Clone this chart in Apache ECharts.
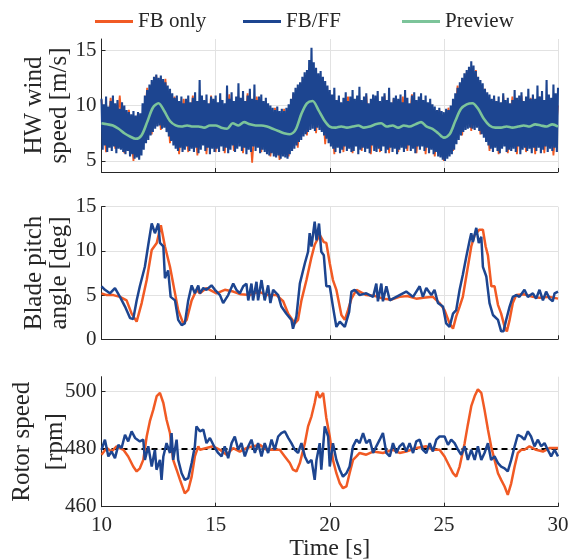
<!DOCTYPE html>
<html>
<head>
<meta charset="utf-8">
<script src="https://cdn.jsdelivr.net/npm/echarts@6/dist/echarts.min.js"></script>
<style>html,body{margin:0;padding:0;background:#fff}#c{width:569px;height:560px}</style>
</head>
<body>
<div id="c"></div>
<script>
// ---------- data ----------
const xTicks = [10, 15, 20, 25, 30];
const windTicks = [5, 10, 15];
const pitchTicks = [0, 5, 10, 15];
const rotorTicks = [460, 480, 500];

// HW wind speed, FB/FF (sampled every 0.05 s from 10 s)
const windFfStart = 10, windFfStep = 0.05;
const windFf = [
10.6,6.0,10.1,6.4,10.8,5.8,9.9,6.2,10.4,5.9,10.9,6.3,10.2,5.7,10.5,6.1,9.7,6.0,10.3,5.8,
10.0,5.6,9.6,5.9,9.4,5.4,9.2,5.6,9.5,5.2,9.1,5.3,9.4,5.1,9.3,5.5,10.2,6.0,10.9,6.6,
11.4,6.9,11.9,7.3,12.3,7.6,12.6,7.9,12.8,8.1,12.5,8.2,12.7,7.9,12.4,8.0,12.1,7.6,11.8,7.2,
11.5,6.8,11.1,6.4,10.7,6.1,10.9,5.9,10.4,6.2,10.8,5.8,10.2,6.0,10.6,6.3,10.9,5.9,10.3,6.1,
10.7,5.8,11.2,6.2,10.4,5.7,12.3,6.0,10.9,6.4,10.5,5.9,11.0,6.2,10.2,5.6,10.8,6.1,10.6,5.8,
10.9,6.1,10.3,5.8,11.1,6.3,10.5,5.9,10.2,6.2,11.8,5.7,10.6,6.0,11.2,6.4,10.4,5.8,10.8,6.1,
12.0,6.3,10.7,5.9,11.3,6.2,10.4,5.6,10.9,6.0,11.5,5.8,10.6,6.3,11.9,5.9,10.5,6.2,10.8,5.7,
11.0,6.0,10.4,5.8,10.7,5.6,10.2,5.5,10.0,5.7,9.8,5.4,9.6,5.3,9.9,5.5,9.5,5.2,9.7,5.4,
9.5,5.3,9.8,5.2,10.1,5.6,10.6,5.9,11.2,6.1,11.6,6.4,11.9,6.7,12.1,6.9,12.6,7.2,13.0,7.4,
13.2,7.6,14.1,7.8,15.2,7.9,13.9,7.7,13.4,8.0,12.9,7.8,13.1,7.6,12.6,7.3,12.2,7.0,11.8,6.6,
11.4,6.3,11.0,6.1,11.6,5.8,10.5,6.2,10.9,5.7,10.3,6.0,10.7,6.3,11.2,5.9,10.4,6.1,10.8,5.8,
11.4,5.9,10.6,6.3,10.9,5.6,11.7,6.0,10.5,6.2,10.8,5.8,11.1,6.1,10.2,5.7,10.6,6.4,11.0,5.9,
10.9,5.8,11.3,6.1,10.4,5.9,10.8,6.3,11.1,5.7,10.5,6.0,11.6,6.2,10.3,5.8,10.7,6.1,10.9,5.6,
10.6,6.0,11.0,6.2,10.3,5.8,11.4,6.1,10.7,6.4,10.2,5.9,10.9,6.1,11.2,5.7,10.5,6.3,10.8,6.0,
11.1,6.3,10.5,5.9,10.9,6.2,10.3,5.7,10.6,6.0,10.1,5.6,9.9,5.8,9.6,5.4,9.8,5.3,9.5,5.1,
9.4,5.0,9.7,5.2,9.6,5.4,10.0,5.6,10.6,6.0,11.1,6.5,11.6,6.9,12.1,7.3,12.5,7.6,12.9,7.8,
13.2,7.9,13.5,8.0,14.0,7.9,13.6,7.8,13.1,8.0,12.6,7.7,12.3,7.4,12.0,7.1,11.5,6.7,11.2,6.4,
11.0,6.1,10.6,5.8,10.9,6.2,10.4,5.9,10.8,5.7,10.3,6.1,11.1,6.3,10.5,5.8,10.7,6.0,10.2,5.9,
10.5,6.1,11.4,5.8,10.7,6.3,10.9,5.6,11.2,6.0,10.4,6.2,10.8,5.9,11.5,6.1,10.6,5.7,11.0,6.2,
10.6,5.9,11.8,6.2,10.8,5.7,11.3,6.0,10.5,6.3,12.3,5.8,11.0,6.1,10.7,5.9,11.9,6.2,11.1,5.8,
11.6
];

// HW wind speed, FB only (sampled every 0.2 s from 10 s)
const windFbStart = 10, windFbStep = 0.2;
const windFb = [
10.5,5.8,10.7,6.1,10.9,5.7,9.6,5.0,9.4,6.2,
11.6,7.4,12.7,7.8,12.4,6.6,10.8,5.6,10.6,5.8,
10.9,5.5,10.7,5.6,10.9,5.8,10.6,5.7,11.0,5.9,
10.8,5.7,11.1,4.85,10.8,5.8,10.4,5.4,9.8,5.1,
9.7,5.4,11.0,6.2,12.1,7.3,13.5,7.5,12.5,6.5,
11.0,5.6,10.7,5.8,10.8,5.7,10.6,5.9,10.9,5.6,
10.7,5.8,10.9,5.7,10.6,5.8,10.8,5.9,11.0,5.7,
10.7,5.6,10.2,5.4,9.6,5.0,9.8,5.9,11.8,7.3,
13.0,7.7,13.2,7.4,11.5,5.9,10.7,5.6,10.9,5.7,
10.8,5.6,10.9,5.8,10.7,5.6,10.8,5.7,10.9,5.5,
10.0
];

// Preview wind speed (every 0.25 s from 10 s)
const previewStart = 10, previewStep = 0.25;
const preview = [
8.4,8.3,8.2,7.9,7.5,7.2,7.0,7.3,8.5,9.8,10.2,9.5,8.6,8.2,8.1,8.2,
8.1,8.1,8.0,8.2,8.2,8.0,7.9,8.4,8.2,8.5,8.3,8.2,8.2,8.1,7.9,7.7,
7.5,7.4,7.8,9.2,10.2,10.4,9.6,8.7,8.1,8.0,8.1,8.0,8.1,8.2,8.0,8.1,
8.3,8.4,8.1,8.2,8.0,8.2,8.1,8.3,8.5,8.1,7.9,7.5,7.1,7.4,8.6,9.7,
10.1,10.2,9.7,8.8,8.2,8.0,8.0,8.1,8.0,8.1,8.2,8.1,8.3,8.2,8.1,8.3,
8.1
];

// Blade pitch angle [deg] : [time, value]
const pitchFb = [
[10.0,5.2],[10.23,5.0],[10.52,5.0],[10.81,4.8],[11.1,4.4],[11.32,2.9],[11.54,2.0],[11.76,4.1],[11.98,6.7],
[12.2,10.1],[12.42,10.9],[12.6,12.9],[12.78,10.5],[13.0,8.2],[13.14,6.3],[13.36,3.3],[13.58,1.8],[13.73,2.2],
[13.95,4.4],[14.17,5.6],[14.31,5.2],[14.6,5.8],[15.04,5.2],[15.4,5.6],[15.77,5.4],[16.1,5.1],[16.5,5.0],
[16.9,5.4],[17.23,5.0],[17.67,5.0],[17.96,4.3],[18.18,2.9],[18.47,1.8],[18.61,2.2],[18.76,4.4],[18.98,6.7],
[19.2,9.3],[19.34,10.7],[19.56,11.8],[19.74,11.0],[19.85,10.9],[20.0,8.6],[20.14,6.7],[20.29,5.6],[20.51,2.75],
[20.66,2.2],[20.8,3.3],[20.95,4.6],[21.17,5.6],[21.6,5.0],[22.0,4.9],[22.33,4.6],[22.7,4.5],[23.06,4.8],
[23.4,4.9],[23.79,4.6],[24.1,4.7],[24.52,4.8],[24.81,4.1],[25.03,3.3],[25.25,1.8],[25.4,1.2],[25.54,2.6],
[25.69,3.7],[25.83,4.8],[25.98,7.1],[26.2,10.5],[26.35,11.8],[26.56,12.4],[26.71,12.4],[26.83,10.5],[26.93,9.5],
[27.08,6.0],[27.22,6.0],[27.37,3.9],[27.51,2.9],[27.66,1.4],[27.76,0.9],[27.88,2.2],[28.02,4.1],[28.17,5.0],
[28.5,5.1],[28.9,4.8],[29.2,4.7],[29.63,4.8],[30.0,4.6]
];
const pitchFf = [
[10.0,6.0],[10.15,5.6],[10.37,5.2],[10.59,5.8],[10.81,4.8],[11.03,3.7],[11.25,2.4],[11.39,2.3],[11.54,4.4],
[11.68,6.0],[11.9,8.2],[12.05,10.7],[12.2,13.1],[12.34,12.0],[12.49,13.1],[12.56,10.9],[12.71,10.5],[12.78,6.9],
[12.92,7.8],[13.03,4.8],[13.22,4.4],[13.36,2.2],[13.51,1.6],[13.65,1.8],[13.8,4.4],[13.95,6.1],[14.09,5.2],
[14.24,6.1],[14.31,5.2],[14.46,5.8],[14.6,5.6],[14.82,6.1],[14.97,5.6],[15.19,5.0],[15.33,4.1],[15.55,5.0],
[15.77,6.3],[15.91,5.6],[16.06,5.2],[16.21,6.0],[16.35,6.3],[16.43,4.4],[16.57,6.3],[16.64,4.4],[16.79,6.5],
[16.86,4.4],[17.01,6.7],[17.15,4.4],[17.3,6.1],[17.4,4.1],[17.52,5.6],[17.74,5.0],[17.88,3.7],[18.1,2.9],
[18.32,2.2],[18.39,1.2],[18.54,2.6],[18.69,6.3],[18.91,8.6],[19.05,9.9],[19.12,12.0],[19.2,10.5],[19.34,13.3],
[19.42,11.2],[19.53,13.1],[19.63,9.9],[19.74,9.5],[19.85,6.0],[20.0,6.0],[20.14,3.7],[20.29,1.4],[20.44,2.0],
[20.66,1.4],[20.85,3.1],[20.95,5.4],[21.09,5.6],[21.31,5.0],[21.6,5.2],[21.9,4.8],[22.04,6.3],[22.11,4.3],
[22.26,6.3],[22.33,4.3],[22.48,6.0],[22.63,4.4],[22.77,4.6],[23.06,5.0],[23.35,5.4],[23.65,4.8],[23.94,6.0],
[24.08,4.8],[24.23,5.8],[24.45,5.0],[24.59,5.6],[24.74,4.1],[24.96,3.7],[25.1,1.8],[25.25,1.4],[25.4,2.9],
[25.54,3.3],[25.69,5.6],[25.83,7.3],[25.98,9.3],[26.13,11.2],[26.2,12.0],[26.27,11.0],[26.42,12.6],[26.53,10.9],
[26.64,11.6],[26.71,8.2],[26.86,7.1],[27.0,4.1],[27.15,2.75],[27.37,2.2],[27.51,0.9],[27.61,0.9],[27.73,2.2],
[27.88,3.7],[28.02,4.8],[28.17,5.0],[28.31,4.8],[28.53,5.6],[28.68,4.8],[28.9,5.2],[29.04,4.6],[29.19,5.6],
[29.34,4.4],[29.48,5.4],[29.63,4.6],[29.77,4.3],[29.85,5.2],[30.0,5.4]
];

// Rotor speed [rpm] : [time, value]
const rotorRated = 480;
const rotorFb = [
[10.0,478.0],[10.23,480.3],[10.44,479.1],[10.66,480.9],[10.96,479.7],[11.17,477.4],[11.39,473.9],[11.54,472.2],
[11.68,473.3],[11.83,476.2],[11.98,484.3],[12.12,489.6],[12.27,493.6],[12.42,498.3],[12.56,499.4],[12.71,495.9],
[12.85,490.1],[13.0,485.5],[13.14,476.2],[13.29,472.8],[13.44,469.3],[13.65,464.6],[13.8,465.8],[13.95,470.4],
[14.09,477.4],[14.24,480.9],[14.31,479.7],[14.6,480.3],[14.89,480.9],[15.19,479.7],[15.48,478.0],[15.77,480.3],
[16.06,479.1],[16.35,480.3],[16.64,480.9],[16.94,481.4],[17.23,479.7],[17.52,479.7],[17.81,479.7],[18.03,477.4],
[18.25,475.1],[18.39,472.8],[18.54,472.2],[18.69,475.1],[18.91,482.0],[19.05,487.8],[19.2,491.3],[19.34,495.9],
[19.44,500.0],[19.56,497.7],[19.71,499.4],[19.85,490.7],[20.0,484.3],[20.14,476.2],[20.29,471.6],[20.44,468.1],
[20.58,466.4],[20.73,467.0],[20.87,471.6],[21.02,476.2],[21.17,477.4],[21.31,478.6],[21.6,478.0],[21.9,479.1],
[22.33,478.6],[22.77,479.7],[23.06,478.6],[23.35,479.1],[23.79,480.3],[24.23,480.9],[24.52,479.7],[24.81,479.7],
[25.03,477.4],[25.25,473.9],[25.4,471.6],[25.54,470.4],[25.69,473.9],[25.91,482.0],[26.05,488.4],[26.2,494.8],
[26.35,498.3],[26.49,500.6],[26.64,499.4],[26.78,493.6],[26.93,486.7],[27.07,480.9],[27.22,476.2],[27.37,471.6],
[27.51,469.3],[27.66,467.0],[27.8,464.1],[27.95,468.1],[28.1,473.9],[28.24,478.6],[28.39,479.7],[28.53,479.7],
[28.75,480.9],[29.04,479.7],[29.34,479.1],[29.63,480.3],[30.0,480.3]
];
const rotorFf = [
[10.0,479.7],[10.15,483.2],[10.3,477.4],[10.44,479.1],[10.59,476.8],[10.74,481.4],[10.88,480.3],[11.03,484.9],
[11.17,482.6],[11.32,486.1],[11.47,483.8],[11.68,482.6],[11.83,483.2],[11.9,476.2],[12.05,480.9],[12.2,473.9],
[12.34,479.7],[12.41,472.8],[12.56,476.2],[12.63,469.3],[12.71,477.4],[12.85,482.0],[13.0,478.6],[13.07,485.5],
[13.14,476.2],[13.29,483.2],[13.36,476.2],[13.51,471.6],[13.65,469.3],[13.8,469.9],[13.95,475.1],[14.09,480.9],
[14.16,487.8],[14.31,486.1],[14.46,486.7],[14.6,482.0],[14.75,483.8],[14.97,480.3],[15.11,478.6],[15.26,477.4],
[15.4,480.9],[15.55,476.8],[15.7,482.0],[15.84,484.3],[15.99,479.7],[16.13,482.0],[16.28,477.4],[16.43,480.9],
[16.57,483.2],[16.72,478.6],[16.86,482.0],[17.01,477.4],[17.15,482.0],[17.3,478.6],[17.45,483.2],[17.59,479.7],
[17.74,484.3],[17.88,485.5],[18.03,486.1],[18.18,483.8],[18.32,482.0],[18.47,479.7],[18.61,478.6],[18.76,482.0],
[18.91,477.4],[19.05,475.1],[19.2,476.2],[19.34,469.3],[19.42,476.2],[19.56,482.0],[19.63,472.8],[19.78,487.8],
[19.93,484.3],[20.0,473.9],[20.14,482.0],[20.29,476.2],[20.44,472.8],[20.58,470.4],[20.73,471.6],[20.87,473.9],
[21.02,480.9],[21.17,483.2],[21.31,482.0],[21.46,485.5],[21.6,482.0],[21.75,483.2],[21.9,478.6],[22.04,480.9],
[22.19,483.2],[22.33,485.5],[22.48,478.6],[22.63,477.4],[22.77,482.0],[22.92,478.6],[23.06,480.9],[23.21,482.0],
[23.35,479.1],[23.5,482.0],[23.65,478.6],[23.79,482.6],[23.94,483.2],[24.08,479.7],[24.23,478.6],[24.38,482.0],
[24.52,479.1],[24.67,483.2],[24.81,484.3],[25.03,484.3],[25.18,481.4],[25.32,483.2],[25.47,482.0],[25.62,479.7],
[25.76,478.0],[25.91,480.9],[26.05,476.2],[26.2,479.7],[26.35,476.2],[26.49,480.9],[26.64,476.2],[26.78,478.6],
[26.93,482.0],[27.07,476.2],[27.22,477.4],[27.37,475.1],[27.51,473.9],[27.66,473.3],[27.8,472.2],[27.95,476.2],
[28.1,480.9],[28.24,484.9],[28.39,484.3],[28.53,483.2],[28.68,486.1],[28.82,484.3],[28.97,480.9],[29.12,483.2],
[29.26,480.9],[29.41,482.0],[29.55,479.7],[29.7,477.4],[29.85,479.7],[30.0,477.4]
];

// ---------- helpers ----------
const seq = (start, step, arr) => arr.map((v, i) => [+(start + i * step).toFixed(3), v]);

const FONT = "'Liberation Serif', 'Times New Roman', serif";
const TXT = '#262626';
const ORANGE = '#f15a24';
const BLUE = '#1d4590';
const GREEN = '#7cc49a';
const GRIDC = '#e2e2e2';

const gridBase = {left: 101.5, right: 11, containLabel: false, outerBoundsMode: 'none'};
const grids = [
  Object.assign({top: 39, height: 133}, gridBase),
  Object.assign({top: 206.7, height: 132.6}, gridBase),
  Object.assign({top: 376.7, height: 130}, gridBase)
];

function xAxisFor(i) {
  return {
    type: 'value', gridIndex: i, min: 10, max: 30, interval: 5,
    axisLine: {show: true, onZero: false, lineStyle: {color: TXT, width: 1}},
    axisTick: {show: true, inside: true, length: 4, lineStyle: {color: TXT}},
    axisLabel: {show: i === 2, margin: 8, fontFamily: FONT, fontSize: 21, color: TXT},
    splitLine: {show: true, lineStyle: {color: GRIDC, width: 1}},
    name: i === 2 ? 'Time [s]' : '', nameLocation: 'middle', nameGap: 30, nameMoveOverlap: false,
    nameTextStyle: {fontFamily: FONT, fontSize: 24, color: TXT}
  };
}
function yAxisFor(i, min, max, ticks, name, gap, lh) {
  return {
    type: 'value', gridIndex: i, min: min, max: max,
    axisLine: {show: true, onZero: false, lineStyle: {color: TXT, width: 1}},
    axisTick: {show: true, inside: true, length: 4, lineStyle: {color: TXT}, customValues: ticks},
    axisLabel: {margin: 5, fontFamily: FONT, fontSize: 21, color: TXT, customValues: ticks},
    splitLine: {show: true, lineStyle: {color: GRIDC, width: 1}},
    name: name, nameLocation: 'middle', nameRotate: 90, nameGap: gap, nameMoveOverlap: false,
    nameTextStyle: {fontFamily: FONT, fontSize: 25, color: TXT, lineHeight: lh}
  };
}

const lineBase = {type: 'line', showSymbol: false, symbol: 'none', animation: false, sampling: false, clip: true};

const option = {
  backgroundColor: '#fff',
  animation: false,
  grid: grids,
  legend: [
    {data: ['FB only'], left: 95, top: 11},
    {data: ['FB/FF'], left: 243, top: 11},
    {data: ['Preview'], left: 402, top: 11}
  ].map(l => Object.assign(l, {
    padding: 0, icon: 'rect', itemWidth: 38, itemHeight: 3, itemGap: 5,
    textStyle: {fontFamily: FONT, fontSize: 21, color: TXT}
  })),
  xAxis: [xAxisFor(0), xAxisFor(1), xAxisFor(2)],
  yAxis: [
    yAxisFor(0, 4, 16, windTicks, 'HW wind\nspeed [m/s]', 30, 25),
    yAxisFor(1, 0, 15, pitchTicks, 'Blade pitch\nangle [deg]', 30, 25),
    yAxisFor(2, 460, 505, rotorTicks, 'Rotor speed\n[rpm]', 30, 33)
  ],
  series: [
    Object.assign({}, lineBase, {name: 'FB only', xAxisIndex: 0, yAxisIndex: 0, data: seq(windFbStart, windFbStep, windFb),
      color: ORANGE, lineStyle: {color: ORANGE, width: 1.8}, z: 2}),
    Object.assign({}, lineBase, {name: 'FB/FF', xAxisIndex: 0, yAxisIndex: 0, data: seq(windFfStart, windFfStep, windFf),
      color: BLUE, lineStyle: {color: BLUE, width: 2.1}, z: 3}),
    Object.assign({}, lineBase, {name: 'Preview', xAxisIndex: 0, yAxisIndex: 0, data: seq(previewStart, previewStep, preview),
      color: GREEN, lineStyle: {color: GREEN, width: 2.6}, smooth: 0.3, z: 4}),

    Object.assign({}, lineBase, {name: 'FB only', xAxisIndex: 1, yAxisIndex: 1, data: pitchFb,
      color: ORANGE, lineStyle: {color: ORANGE, width: 2.5}, z: 2}),
    Object.assign({}, lineBase, {name: 'FB/FF', xAxisIndex: 1, yAxisIndex: 1, data: pitchFf,
      color: BLUE, lineStyle: {color: BLUE, width: 2.5}, z: 3}),

    Object.assign({}, lineBase, {name: 'Rated', xAxisIndex: 2, yAxisIndex: 2, data: [[10, rotorRated], [30, rotorRated]],
      color: '#000', lineStyle: {color: '#000', width: 2, type: [6, 4]}, z: 1}),
    Object.assign({}, lineBase, {name: 'FB only', xAxisIndex: 2, yAxisIndex: 2, data: rotorFb,
      color: ORANGE, lineStyle: {color: ORANGE, width: 2.5}, z: 2}),
    Object.assign({}, lineBase, {name: 'FB/FF', xAxisIndex: 2, yAxisIndex: 2, data: rotorFf,
      color: BLUE, lineStyle: {color: BLUE, width: 2.5}, z: 3})
  ]
};

const chart = echarts.init(document.getElementById('c'), null, {renderer: 'canvas'});
chart.setOption(option);
</script>
</body>
</html>
